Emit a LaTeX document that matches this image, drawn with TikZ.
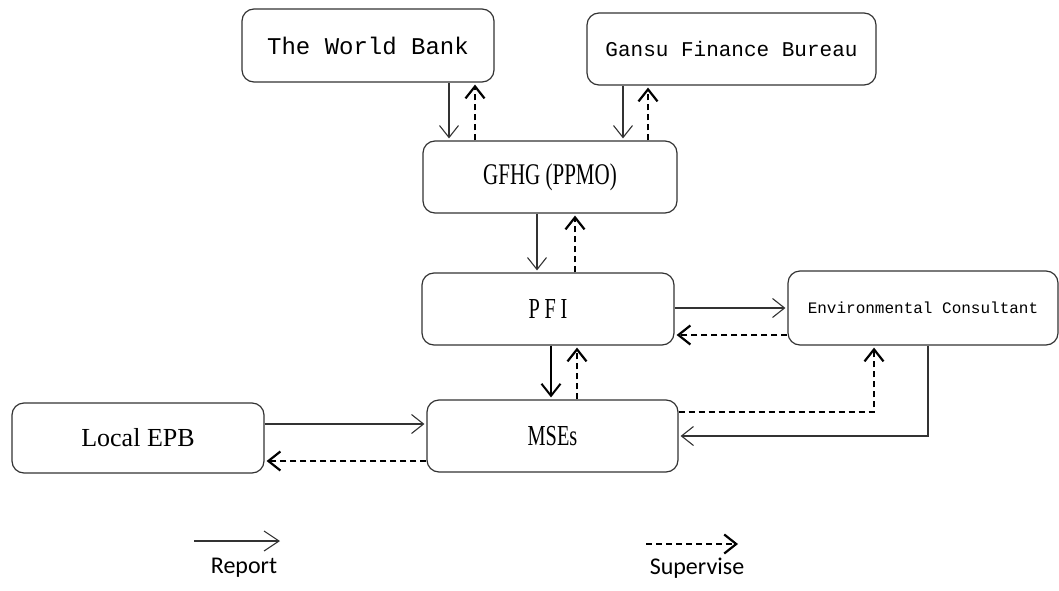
\documentclass[tikz,border=0pt]{standalone}
\usepackage{fontspec}
\setmainfont{Liberation Serif}
\newfontfamily\monofont{Liberation Mono}
\newfontfamily\tallfont[FakeStretch=0.7]{Liberation Serif}
\newfontfamily\keyfont{Carlito}
\usetikzlibrary{arrows.meta}

\begin{document}
\begin{tikzpicture}[x=1pt,y=-1pt,>={Straight Barb[length=12pt,width=19pt]},
  orgbox/.style={draw=black!80,line width=1.2pt,rounded corners=12pt,inner sep=0pt,minimum height=72pt},
  report/.style={->,line width=1.1pt,draw=black!80,shorten >=2pt},
  supervise/.style={->,line width=2.2pt,dash pattern=on 6pt off 4pt,shorten >=2pt}]
  \useasboundingbox (0,0) rectangle (1059,591);
  % boxes
  \node[orgbox,minimum width=252pt,minimum height=73pt,font=\monofont\fontsize{24}{28}\selectfont] (wb) at (368,45.5) {The World Bank};
  \node[orgbox,minimum width=289pt,font=\monofont\fontsize{21}{25}\selectfont] (gfb) at (731.5,49) {Gansu Finance Bureau};
  \node[orgbox,minimum width=254pt,font=\tallfont\fontsize{30}{34}\selectfont] (gfhg) at (550,177) {GFHG (PPMO)};
  \node[orgbox,minimum width=252pt,font=\tallfont\fontsize{29}{33}\selectfont] (pfi) at (548,309) {P\,F\,I};
  \node[orgbox,minimum width=270pt,minimum height=74pt,font=\monofont\fontsize{16}{19}\selectfont] (env) at (923,308) {Environmental Consultant};
  \node[orgbox,minimum width=251pt,font=\tallfont\fontsize{29}{33}\selectfont] (mses) at (552.5,436) {MSEs};
  \node[orgbox,minimum width=252pt,minimum height=70pt,font=\fontsize{26}{30}\selectfont] (epb) at (138,438) {Local EPB};
  % report lines
  \draw[report] (449,0 |- wb.south) -- (449,0 |- gfhg.north);
  \draw[report] (623,0 |- gfb.south) -- (623,0 |- gfhg.north);
  \draw[report] (537,0 |- gfhg.south) -- (537,0 |- pfi.north);
  \draw[report,line width=2pt,draw=black] (551,0 |- pfi.south) -- (551,0 |- mses.north);
  \draw[report] (pfi.east |- 0,308) -- (env.west |- 0,308);
  \draw[report] (928,0 |- env.south) |- (mses.east |- 0,436);
  \draw[report] (epb.east |- 0,424) -- (mses.west |- 0,424);
  % supervise lines
  \draw[supervise] (475,0 |- gfhg.north) -- (475,0 |- wb.south);
  \draw[supervise] (648,0 |- gfhg.north) -- (648,0 |- gfb.south);
  \draw[supervise] (575,0 |- pfi.north) -- (575,0 |- gfhg.south);
  \draw[supervise] (577,0 |- mses.north) -- (577,0 |- pfi.south);
  \draw[supervise] (env.west |- 0,335) -- (pfi.east |- 0,335);
  \draw[supervise] (mses.east |- 0,412) -| (874,0 |- env.south);
  \draw[supervise] (mses.west |- 0,461) -- (epb.east |- 0,461);
  % key
  \coordinate (r1) at (194,541);
  \coordinate (r2) at (280,541);
  \coordinate (s1) at (646,544);
  \coordinate (s2) at (738,544);
  \draw[report,shorten >=0pt,>={Straight Barb[length=15pt,width=20pt]}] (r1) -- (r2);
  \draw[supervise,shorten >=0pt,>={Straight Barb[length=12pt,width=19pt]}] (s1) -- (s2);
  \node[font=\keyfont\fontsize{24}{28}\selectfont] (rep) at (244,568) {Report};
  \node[font=\keyfont\fontsize{24}{28}\selectfont] (sup) at (697,568) {Supervise};
\end{tikzpicture}
\end{document}
